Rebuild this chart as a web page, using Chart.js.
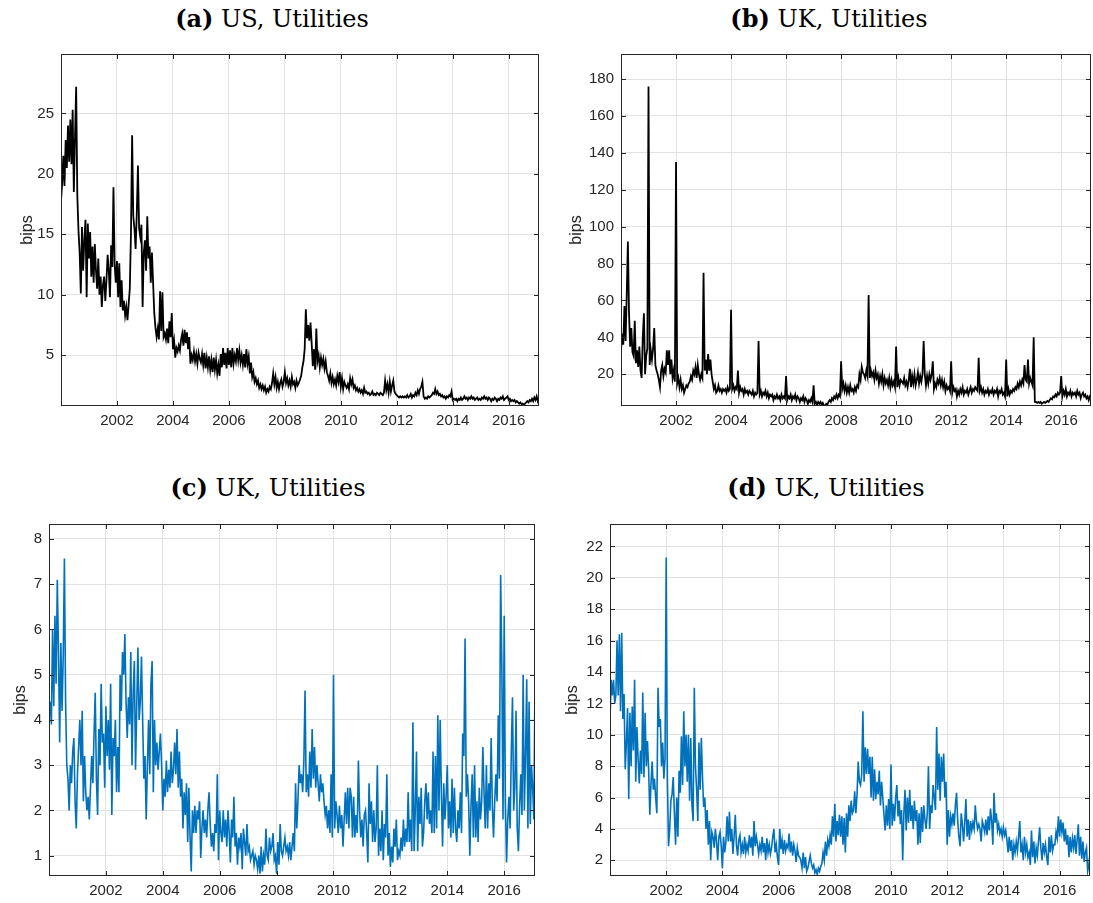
<!DOCTYPE html>
<html>
<head>
<meta charset="utf-8">
<script src="https://cdn.jsdelivr.net/npm/chart.js@4.4.1/dist/chart.umd.min.js"></script>
<style>
  html, body { margin: 0; padding: 0; background: #fff; }
  #page { position: relative; width: 1093px; height: 903px; overflow: hidden; background: #fff; }
  canvas { position: absolute; }
  .ttl {
    position: absolute; transform: translateX(-50%); white-space: nowrap;
    font-family: "DejaVu Serif", serif; font-size: 24px; line-height: 1; color: #000;
  }
  .ttl b { font-weight: bold; }
</style>
</head>
<body>
<div id="page">
  <div class="ttl" style="left:272px; top:7px;"><b>(a)</b> US, Utilities</div>
  <div class="ttl" style="left:829px; top:7px;"><b>(b)</b> UK, Utilities</div>
  <div class="ttl" style="left:268px; top:476px;"><b>(c)</b> UK, Utilities</div>
  <div class="ttl" style="left:826px; top:476px;"><b>(d)</b> UK, Utilities</div>
  <canvas id="chartA" width="547" height="400" style="left:0px; top:40px;"></canvas>
  <canvas id="chartB" width="547" height="400" style="left:546px; top:40px;"></canvas>
  <canvas id="chartC" width="547" height="400" style="left:0px; top:510px;"></canvas>
  <canvas id="chartD" width="547" height="400" style="left:546px; top:510px;"></canvas>
</div>
<script>
// Semi-monthly observations starting January 2000 (24 per year).
const START_YEAR = 2000;
const PER_YEAR = 24;
const X_MIN = 2000;
const X_MAX = 2017.083;

// Year tick labels shared by all panels
const yearTicks = [2002, 2004, 2006, 2008, 2010, 2012, 2014, 2016];

// y tick labels per panel
const ticksUS = [5, 10, 15, 20, 25];
const ticksUKb = [20, 40, 60, 80, 100, 120, 140, 160, 180];
const ticksUKc = [1, 2, 3, 4, 5, 6, 7, 8];
const ticksUKd = [2, 4, 6, 8, 10, 12, 14, 16, 18, 20, 22];

// (a) US, Utilities (bips)
const usUtilities = [
  17.8,19.2,21.5,19.0,22.8,20.5,24.0,21.0,24.5,20.8,25.3,18.5,23.0,27.2,18.2,15.3,13.5,10.1,15.6,12.0,14.5,16.2,9.8,15.9,
  13.0,15.2,11.5,14.0,11.0,14.2,12.0,10.5,13.0,10.0,11.5,9.0,10.8,11.5,9.5,11.2,13.3,12.0,9.8,14.1,12.3,18.9,12.5,11.0,
  12.8,9.8,12.6,9.0,11.2,8.7,9.5,8.3,9.0,7.9,9.2,10.5,15.0,23.2,16.5,15.5,13.8,16.7,20.7,15.5,14.8,15.8,9.0,13.5,
  14.5,12.0,16.5,13.0,14.0,11.0,13.5,11.0,8.5,7.3,6.5,7.2,6.3,10.3,7.0,10.2,6.5,6.8,6.3,7.2,6.0,7.8,6.5,8.5,
  5.5,6.2,4.8,5.6,5.3,5.8,5.4,6.3,6.8,5.8,7.1,6.0,6.9,5.5,6.5,4.3,5.0,4.6,5.3,4.5,5.1,4.3,5.2,4.7,
  4.4,5.1,4.2,5.2,3.9,4.8,4.0,4.9,3.8,4.6,3.6,4.8,3.8,4.6,3.5,4.2,3.3,5.1,4.0,5.6,4.2,5.2,3.9,5.6,
  4.2,5.4,4.0,5.6,4.3,5.0,4.5,5.6,4.6,5.4,4.4,5.0,4.2,5.1,4.0,5.5,4.3,4.9,3.5,4.4,3.2,3.6,2.8,3.1,
  2.6,2.9,2.3,2.6,2.2,2.5,2.1,2.4,1.9,2.2,2.0,2.4,2.2,2.7,3.5,2.6,3.2,2.3,2.8,2.2,2.7,3.0,2.4,2.8,
  3.6,2.7,3.1,2.5,2.9,2.4,3.2,2.6,2.8,2.3,2.9,2.5,2.7,3.0,3.3,4.0,4.5,5.5,8.8,6.4,7.5,6.2,7.7,6.0,
  4.1,5.5,3.8,7.2,4.5,5.0,4.0,4.8,4.2,4.7,3.9,4.5,3.6,3.3,2.9,3.5,2.7,3.2,2.6,3.0,2.5,3.3,2.8,3.6,
  2.4,3.1,2.2,2.8,2.5,2.3,2.6,2.2,3.1,2.6,3.0,2.3,2.5,2.1,2.3,2.0,2.2,1.9,2.1,1.8,2.3,1.9,2.0,1.8,
  1.9,1.7,1.8,2.0,1.7,1.8,1.7,1.9,1.8,1.7,1.9,1.8,1.7,1.9,2.9,2.1,2.6,1.9,2.8,2.0,2.5,2.9,2.0,1.8,
  1.7,1.6,1.5,1.6,1.5,1.6,1.5,1.6,1.5,1.7,1.5,1.6,1.8,1.5,1.7,1.6,1.9,1.7,2.1,1.8,2.2,2.4,2.8,1.6,
  1.4,1.5,1.4,1.6,1.5,1.6,1.7,1.9,1.8,2.2,1.8,2.0,1.7,1.8,1.6,1.7,1.5,1.6,1.4,1.6,1.5,1.7,1.6,2.0,
  1.3,1.4,1.3,1.4,1.2,1.4,1.3,1.5,1.3,1.4,1.6,1.4,1.5,1.3,1.5,1.4,1.6,1.4,1.5,1.3,1.4,1.5,1.3,1.4,
  1.3,1.5,1.4,1.6,1.4,1.5,1.3,1.5,1.4,1.2,1.4,1.3,1.5,1.4,1.2,1.4,1.3,1.5,1.4,1.6,1.3,1.4,1.5,1.6,
  1.3,1.4,1.2,1.3,1.2,1.3,1.1,1.2,1.1,1.0,1.1,0.95,1.0,0.9,1.0,1.1,1.2,1.1,1.3,1.2,1.4,1.2,1.5,1.3,
  1.6,1.2,1.5
];

// (b) UK, Utilities (bips)
const ukUtilitiesB = [
  33,42,36,57,38,63,92,53,35,45,32,30,49,26,33,24,35,22,18,40,53,20,30,34,
  176,25,33,28,34,45,25,22,20,17,13,22,25,19,23,21,33,25,33,20,28,18,22,16,
  135,15,18,13,17,12,14,10,12,14,13,15,16,19,17,22,20,24,18,25,20,17,20,18,
  75,22,28,20,31,22,28,20,16,12,14,10,11,14,11,12,10,12,11,12,10,13,11,12,
  55,12,14,11,13,12,22,10,13,11,12,9,12,10,11,9,11,10,9,11,8,10,9,10,
  38,9,11,8,10,9,11,8,10,7,9,8,9,6,8,7,9,7,8,6,9,7,8,7,
  19,6,8,7,9,6,8,7,9,6,8,7,5,7,6,8,5,7,6,4,6,5,7,5,
  14,4,5,3.5,5,4,5,3.5,4.5,3,2.8,4,3.5,5,6,5,7,6,8,7,9,7,9,8,
  27,12,15,11,14,10,13,10,14,11,12,10,13,11,14,13,20,17,24,21,20,18,22,19,
  63,18,22,19,21,17,22,18,20,15,19,16,20,14,18,15,17,14,18,13,17,14,16,13,
  35,13,18,14,17,16,15,18,14,16,13,17,23,13,19,15,20,14,17,21,15,19,16,20,
  38,20,14,19,15,20,17,20,27,12,15,13,17,15,18,14,17,13,16,11,14,12,13,11,
  27,10,13,11,12,8,11,9,12,10,13,9,11,10,12,9,11,13,10,12,11,13,12,11,
  29,11,13,10,12,9,11,10,12,9,11,10,12,9,11,10,12,8,11,10,12,9,10,8,
  28,8,12,9,11,10,12,11,13,12,15,13,16,14,17,15,25,17,16,28,15,18,16,14,
  40,5,5,4.5,5,4.5,5,4,4.5,5,4.5,5,5.5,5,6,7,6.5,8,7.5,9,8,10,9,10,
  19,8,11,9,12,8,10,9,11,8,10,9,10,8,11,9,10,7,9,10,8,9,7,8,
  6,8,7
];

// (c) UK, Utilities (bips)
const ukUtilitiesC = [
  4.1,4.4,3.9,6.0,4.3,6.3,4.8,7.1,5.5,3.5,5.7,4.2,5.4,7.57,4.4,3.0,2.7,2.0,3.0,2.6,3.3,3.6,2.2,1.6,
  2.8,3.4,4.0,3.0,4.2,2.2,3.2,2.4,2.0,2.3,1.8,2.5,3.2,2.6,3.7,4.6,2.7,1.9,3.8,3.0,4.8,3.5,3.7,2.5,
  4.3,3.2,4.0,2.9,4.8,1.9,3.6,3.2,4.0,2.4,3.4,2.4,5.0,4.2,5.5,5.0,5.9,4.4,3.6,4.5,3.9,5.5,3.0,4.6,
  5.3,2.9,4.3,5.6,4.0,4.4,5.4,4.0,2.7,3.2,1.8,3.0,4.0,2.8,4.8,5.3,2.4,4.0,3.0,3.5,2.9,3.3,3.7,3.0,
  2.0,2.7,2.3,3.1,2.4,2.9,2.5,3.3,2.6,2.9,3.5,2.8,3.8,2.5,3.3,2.3,2.7,1.6,2.4,1.9,2.6,1.3,2.5,1.4,
  0.65,2.0,1.5,2.1,1.5,2.0,1.8,2.2,0.95,1.6,2.0,1.5,1.8,1.4,2.0,2.4,1.7,1.2,1.5,1.1,1.7,1.5,2.8,0.9,
  2.0,1.5,1.3,2.0,1.4,1.8,1.2,2.0,1.5,0.85,1.8,1.4,2.3,1.2,1.5,0.8,1.4,1.2,1.5,0.7,1.6,1.3,1.0,1.7,
  1.1,1.2,0.9,1.0,1.1,0.8,1.0,0.9,0.7,1.0,0.6,1.2,0.65,1.0,0.8,1.6,1.0,0.9,1.4,1.1,1.2,1.5,0.9,1.0,
  0.6,1.3,0.8,1.7,1.1,1.0,1.2,1.4,1.1,1.2,1.0,1.3,0.9,1.2,1.5,1.1,2.6,1.6,2.2,3.0,2.6,2.8,2.4,3.1,
  4.65,2.4,2.8,2.3,3.3,2.5,3.8,2.7,3.4,2.5,3.0,2.6,2.2,2.8,2.4,2.6,2.2,1.9,2.1,1.6,2.0,1.5,2.8,1.4,
  5.0,1.6,2.2,1.9,1.5,2.1,1.6,1.9,1.2,1.8,2.4,1.7,2.5,1.6,2.5,2.3,1.4,2.3,1.4,1.9,1.5,3.1,2.0,1.4,
  1.8,1.2,1.9,2.0,1.5,0.85,2.6,1.7,2.2,1.3,2.0,1.3,1.6,3.0,1.0,1.6,1.1,2.0,0.9,1.7,1.4,2.8,1.0,1.5,
  0.75,1.2,0.85,1.6,1.2,1.8,0.9,1.1,1.0,1.4,1.1,1.8,1.2,1.6,1.3,2.4,1.3,1.8,1.1,3.95,1.1,2.0,3.3,1.1,
  2.3,1.7,2.5,1.2,1.5,2.2,2.6,1.8,2.4,1.7,2.0,1.5,3.3,1.5,3.2,1.6,4.1,2.0,4.0,2.4,1.2,2.6,1.8,2.3,
  3.0,1.6,2.2,1.4,2.7,1.5,2.5,1.6,1.3,2.0,1.6,2.4,1.5,3.7,3.2,5.8,2.3,2.8,2.2,1.0,2.1,2.8,1.4,3.0,
  1.4,2.2,1.3,2.5,1.8,2.2,3.4,2.4,1.6,3.0,1.6,2.6,2.0,3.6,2.1,1.4,2.2,2.8,2.2,4.1,2.7,7.2,5.2,1.8,
  6.3,2.2,0.85,1.8,2.3,1.6,3.3,4.5,2.0,2.5,4.2,1.6,1.1,2.1,2.8,1.9,5.0,2.0,3.2,4.9,1.6,4.4,1.7,3.0,
  2.5,1.8,4.9
];

// (d) UK, Utilities (bips)
const ukUtilitiesD = [
  11.0,13.5,12.5,13.5,12.0,12.5,16.0,12.5,16.4,11.5,16.5,11.0,12.6,7.8,9.5,11.7,5.9,11.4,8.0,11.8,9.0,13.5,7.0,10.5,
  8.5,6.9,9.0,7.5,12.7,7.3,11.4,8.0,9.6,7.8,4.9,6.9,8.3,6.5,7.2,6.0,5.0,13.0,10.5,11.0,8.0,9.5,7.2,8.5,
  21.3,7.3,2.9,4.0,5.8,6.2,7.3,5.0,3.0,6.0,3.5,7.7,6.3,9.9,6.8,11.5,8.0,10.0,7.0,10.0,5.8,9.8,5.5,4.5,
  13.0,8.0,6.5,4.5,9.5,6.5,9.8,7.3,5.4,6.0,4.0,5.2,3.0,4.5,2.0,3.8,3.5,2.8,4.0,3.2,2.0,3.5,3.8,2.9,
  1.5,3.5,2.5,3.2,4.8,3.2,5.1,3.2,4.0,2.4,3.5,4.9,3.0,2.3,3.3,3.6,2.5,3.0,2.4,3.5,2.5,3.0,2.6,3.6,
  2.8,3.5,2.3,4.5,2.9,3.5,3.0,2.4,3.0,2.6,3.5,2.5,3.1,2.0,3.4,2.5,3.0,2.4,2.8,3.5,4.0,2.5,3.0,2.2,
  1.7,4.0,2.7,3.3,2.4,3.3,2.6,3.0,2.8,3.7,2.5,3.2,2.3,3.0,2.6,1.9,2.8,2.3,2.2,2.0,1.5,2.5,1.5,2.2,
  1.3,1.5,1.9,2.3,1.8,1.5,1.7,1.2,1.4,1.1,1.5,1.3,1.6,1.8,2.5,2.0,3.2,2.3,3.3,2.9,3.6,3.0,4.8,3.5,
  5.6,3.2,4.5,3.6,4.9,3.5,4.8,3.0,4.7,2.5,5.0,3.5,5.5,4.5,5.8,5.0,5.2,6.4,5.0,6.2,8.3,7.0,6.8,7.5,
  11.5,7.0,9.2,7.5,9.1,7.5,8.6,6.0,8.6,5.8,7.8,5.9,7.0,6.2,7.7,5.5,7.0,6.0,4.9,3.9,5.5,4.2,5.9,4.0,
  8.1,4.2,5.6,4.5,6.0,6.8,4.8,5.8,4.3,5.2,2.0,5.0,6.5,3.9,6.0,4.4,6.5,4.5,5.5,4.0,5.8,4.5,5.2,3.0,
  5.0,3.1,5.4,3.8,5.5,4.6,4.0,5.0,8.0,4.0,5.5,5.0,6.8,6.0,5.2,10.5,6.5,8.8,5.8,8.6,7.0,8.8,6.0,7.0,
  3.0,5.2,3.5,4.8,4.3,5.0,4.2,5.5,6.3,4.5,3.5,2.9,5.0,4.3,3.2,4.4,5.9,3.5,4.6,3.3,4.5,3.9,4.4,4.0,
  5.5,4.5,4.0,4.3,4.0,3.2,4.5,4.2,3.8,4.6,3.6,4.8,3.9,5.3,4.5,3.0,6.3,4.4,5.0,3.9,4.3,3.7,4.0,3.5,
  4.1,3.6,3.9,3.3,2.5,3.5,2.6,3.3,2.0,3.0,2.5,3.2,2.6,3.5,4.5,2.5,3.0,2.0,3.5,2.5,3.0,2.2,2.5,1.7,
  3.9,2.2,3.2,1.8,2.8,2.3,3.2,4.1,2.8,2.0,3.1,2.5,3.0,2.2,1.7,3.5,2.5,3.6,2.6,3.0,3.0,3.8,3.4,4.8,
  3.5,4.6,3.8,4.4,3.2,4.0,3.0,3.6,2.2,3.5,2.5,3.4,2.8,3.6,2.4,3.3,4.3,2.3,3.5,2.1,3.2,1.9,2.5,2.8,
  1.3,1.7,2.5
];

const AXIS_COLOR = '#262626';
const GRID_COLOR = '#e2e2e2';
const BLACK_LINE = '#000000';
const BLUE_LINE = '#0072bd';
const TICK_FONT = { family: 'Liberation Sans, Arial, sans-serif', size: 15 };
const LABEL_FONT = { family: 'Liberation Sans, Arial, sans-serif', size: 16 };

function toPoints(values) {
  return values.map((v, i) => ({ x: START_YEAR + i / PER_YEAR, y: v }));
}

// Axes box with inward tick marks on all four sides
const boxFrame = {
  id: 'boxFrame',
  afterDraw(chart) {
    const { ctx, chartArea: a, scales: { x, y } } = chart;
    const len = 5;
    ctx.save();
    ctx.strokeStyle = AXIS_COLOR;
    ctx.lineWidth = 1;
    ctx.beginPath();
    x.ticks.forEach(t => {
      const px = Math.round(x.getPixelForValue(t.value)) + 0.5;
      ctx.moveTo(px, a.top); ctx.lineTo(px, a.top + len);
      ctx.moveTo(px, a.bottom); ctx.lineTo(px, a.bottom - len);
    });
    y.ticks.forEach(t => {
      const py = Math.round(y.getPixelForValue(t.value)) + 0.5;
      ctx.moveTo(a.left, py); ctx.lineTo(a.left + len, py);
      ctx.moveTo(a.right, py); ctx.lineTo(a.right - len, py);
    });
    ctx.stroke();
    ctx.strokeRect(Math.round(a.left) + 0.5, Math.round(a.top) + 0.5,
                   Math.round(a.right - a.left) - 1, Math.round(a.bottom - a.top) - 1);
    ctx.restore();
  }
};

function makePanel(id, values, color, lineWidth, yTicks, yMin, yMax, yAxisWidth, rightPad, labelOffset) {
  new Chart(document.getElementById(id), {
    type: 'line',
    data: {
      datasets: [{
        data: toPoints(values),
        borderColor: color,
        borderWidth: lineWidth,
        pointRadius: 0,
        tension: 0,
        fill: false
      }]
    },
    options: {
      responsive: false,
      animation: false,
      events: [],
      layout: { padding: { left: 0, right: rightPad, top: 14, bottom: 0 } },
      plugins: { legend: { display: false }, tooltip: { enabled: false } },
      scales: {
        x: {
          type: 'linear',
          min: X_MIN,
          max: X_MAX,
          afterBuildTicks: s => { s.ticks = yearTicks.map(v => ({ value: v })); },
          afterFit: s => { s.height = 34; s.paddingLeft = 0; s.paddingRight = 0; },
          grid: { color: GRID_COLOR, lineWidth: 1, drawTicks: false },
          border: { display: false },
          ticks: {
            padding: 6, color: AXIS_COLOR, font: TICK_FONT,
            maxRotation: 0, autoSkip: false,
            callback: v => String(v)
          }
        },
        y: {
          type: 'linear',
          min: yMin,
          max: yMax,
          afterBuildTicks: s => { s.ticks = yTicks.map(v => ({ value: v })); },
          afterFit: s => { s.width = yAxisWidth; s.paddingTop = 0; s.paddingBottom = 0; },
          grid: { color: GRID_COLOR, lineWidth: 1, drawTicks: false },
          border: { display: false },
          ticks: {
            padding: 7, color: AXIS_COLOR, font: TICK_FONT,
            autoSkip: false, callback: v => String(v)
          },
          title: {
            display: true, text: 'bips', color: AXIS_COLOR, font: LABEL_FONT,
            padding: { top: labelOffset, bottom: 0 }
          }
        }
      }
    },
    plugins: [boxFrame]
  });
}

makePanel('chartA', usUtilities, BLACK_LINE, 1.8, ticksUS, 0.8, 29.92, 61, 8, 18);
makePanel('chartB', ukUtilitiesB, BLACK_LINE, 1.8, ticksUKb, 2.8, 193.6, 75, 2, 21);
makePanel('chartC', ukUtilitiesC, BLUE_LINE, 1.6, ticksUKc, 0.55, 8.33, 49, 12, 11);
makePanel('chartD', ukUtilitiesD, BLUE_LINE, 1.6, ticksUKd, 1.0, 23.43, 64, 3, 17);
</script>
</body>
</html>
